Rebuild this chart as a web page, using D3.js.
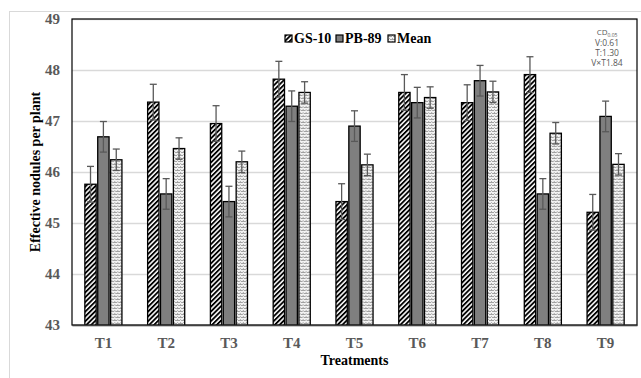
<!DOCTYPE html>
<html>
<head>
<meta charset="utf-8">
<script src="https://cdn.jsdelivr.net/npm/d3@7"></script>
<style>
  body { margin: 0; background: #fff; }
  svg text { font-family: "Liberation Serif", "Times New Roman", serif; }
</style>
</head>
<body>
<figure id="chart" style="margin:0"></figure>
<script>
// values
const treatments = ["T1", "T2", "T3", "T4", "T5", "T6", "T7", "T8", "T9"];
const gs10   = [45.76, 47.37, 46.95, 47.82, 45.42, 47.56, 47.36, 47.91, 45.21];
const pb89   = [46.69, 45.57, 45.42, 47.29, 46.90, 47.36, 47.79, 45.57, 47.09];
const meanV  = [46.24, 46.46, 46.20, 47.56, 46.14, 47.46, 47.57, 46.76, 46.15];
const gsErr   = [0.35, 0.35, 0.35, 0.35, 0.35, 0.35, 0.35, 0.35, 0.35];
const pbErr   = [0.30, 0.30, 0.30, 0.30, 0.30, 0.30, 0.30, 0.30, 0.30];
const meanErr = [0.21, 0.21, 0.21, 0.21, 0.21, 0.21, 0.21, 0.21, 0.21];
const seriesNames = ["GS-10", "PB-89", "Mean"];
const yTicks = [43, 44, 45, 46, 47, 48, 49];
const cdLines = ["V:0.61", "T:1.30", "V\u00d7T1.84"];

const WIDTH  = 641;
const HEIGHT = 378;
const MARGIN = { top: 19, right: 4, bottom: 53, left: 72 };
const INNER_WIDTH  = WIDTH - MARGIN.left - MARGIN.right;
const INNER_HEIGHT = HEIGHT - MARGIN.top - MARGIN.bottom;

const svg = d3.select("figure#chart")
  .append("svg")
  .attr("width", WIDTH)
  .attr("height", HEIGHT);

// patterns
const defs = svg.append("defs");
const hatch = defs.append("pattern")
  .attr("id", "hatch")
  .attr("patternUnits", "userSpaceOnUse")
  .attr("width", 3.4).attr("height", 3.4)
  .attr("patternTransform", "rotate(45)");
hatch.append("rect").attr("width", 3.4).attr("height", 3.4).attr("fill", "#fff");
hatch.append("line").attr("x1", 0.9).attr("y1", 0).attr("x2", 0.9).attr("y2", 3.4)
  .attr("stroke", "#000").attr("stroke-width", 1.9);

const zig = defs.append("pattern")
  .attr("id", "zig")
  .attr("patternUnits", "userSpaceOnUse")
  .attr("width", 6).attr("height", 6);
zig.append("rect").attr("width", 6).attr("height", 6).attr("fill", "#f2f2f2");
zig.append("path").attr("d", "M0,2 L1.5,0.5 L3,2 L4.5,0.5 L6,2 M0,5 L1.5,3.5 L3,5 L4.5,3.5 L6,5 M1.5,0.5 L1.5,2 M4.5,3.5 L4.5,5")
  .attr("fill", "none").attr("stroke", "#999").attr("stroke-width", 0.9);

const fills = ["url(#hatch)", "#7f7f7f", "url(#zig)"];

// outer chart frame
svg.append("rect")
  .attr("x", 9.5).attr("y", 11.5)
  .attr("width", 640).attr("height", 380)
  .attr("fill", "none")
  .attr("stroke", "#d9d9d9");

const g = svg.append("g")
  .attr("transform", "translate(" + MARGIN.left + "," + MARGIN.top + ")");

const x0 = d3.scaleBand()
  .domain(treatments)
  .range([0, INNER_WIDTH])
  .paddingInner(0.36)
  .paddingOuter(0.18);

const x1 = d3.scaleBand()
  .domain(seriesNames)
  .range([0, x0.bandwidth()])
  .padding(0.12);

const y = d3.scaleLinear()
  .domain([43, 49])
  .range([INNER_HEIGHT, 0]);

// grid
const yAxisGrid = d3.axisLeft(y)
  .tickValues(yTicks)
  .tickSize(-INNER_WIDTH)
  .tickPadding(12)
  .tickFormat(d3.format("d"));

const yg = g.append("g").call(yAxisGrid);
yg.select(".domain").remove();
yg.selectAll(".tick line").attr("stroke", "#d9d9d9").attr("stroke-width", 1.5);
yg.selectAll(".tick text")
  .attr("fill", "#595959")
  .style("font-size", "15px")
  .style("font-weight", "bold");

// plot area border
g.append("rect")
  .attr("width", INNER_WIDTH).attr("height", INNER_HEIGHT)
  .attr("fill", "none")
  .attr("stroke", "#000")
  .attr("stroke-width", 1.2);

const rows = treatments.map((t, i) => ({
  t: t,
  vals: [
    { s: "GS-10", v: gs10[i], e: gsErr[i], k: 0 },
    { s: "PB-89", v: pb89[i], e: pbErr[i], k: 1 },
    { s: "Mean", v: meanV[i], e: meanErr[i], k: 2 }
  ]
}));

const groups = g.selectAll(".grp")
  .data(rows)
  .enter()
  .append("g")
  .attr("transform", d => "translate(" + x0(d.t) + ",0)");

groups.selectAll("rect")
  .data(d => d.vals)
  .enter()
  .append("rect")
  .attr("x", d => x1(d.s))
  .attr("y", d => y(d.v))
  .attr("width", x1.bandwidth())
  .attr("height", d => y(43) - y(d.v))
  .attr("fill", d => fills[d.k])
  .attr("stroke", "#000")
  .attr("stroke-width", 1.3);

// error bars
const err = groups.selectAll(".err")
  .data(d => d.vals)
  .enter()
  .append("g")
  .attr("stroke", "#595959")
  .attr("stroke-width", 1.3);

err.append("line")
  .attr("x1", d => x1(d.s) + x1.bandwidth() / 2)
  .attr("x2", d => x1(d.s) + x1.bandwidth() / 2)
  .attr("y1", d => y(d.v - d.e))
  .attr("y2", d => y(d.v + d.e));
err.append("line")
  .attr("x1", d => x1(d.s) + x1.bandwidth() / 2 - 3.5)
  .attr("x2", d => x1(d.s) + x1.bandwidth() / 2 + 3.5)
  .attr("y1", d => y(d.v + d.e))
  .attr("y2", d => y(d.v + d.e));
err.append("line")
  .attr("x1", d => x1(d.s) + x1.bandwidth() / 2 - 3.5)
  .attr("x2", d => x1(d.s) + x1.bandwidth() / 2 + 3.5)
  .attr("y1", d => y(d.v - d.e))
  .attr("y2", d => y(d.v - d.e));

// x axis
const xAxis = d3.axisBottom(x0).tickSize(0).tickPadding(12);
const xg = g.append("g")
  .attr("transform", "translate(0," + INNER_HEIGHT + ")")
  .call(xAxis);
xg.select(".domain").attr("stroke", "#404040").attr("stroke-width", 1.5);
xg.selectAll(".tick text")
  .attr("fill", "#595959")
  .style("font-size", "15px")
  .style("font-weight", "bold");

// axis titles
svg.append("text")
  .attr("x", MARGIN.left + INNER_WIDTH / 2)
  .attr("y", 365)
  .style("text-anchor", "middle")
  .style("font-size", "14px")
  .style("font-weight", "bold")
  .text("Treatments");

svg.append("text")
  .attr("transform", "rotate(-90)")
  .attr("x", -(MARGIN.top + INNER_HEIGHT / 2))
  .attr("y", 40)
  .style("text-anchor", "middle")
  .style("font-size", "14px")
  .style("font-weight", "bold")
  .text("Effective nodules per plant");

// legend
const legX = [285, 336, 388];
const leg = svg.selectAll(".leg")
  .data(seriesNames)
  .enter()
  .append("g")
  .attr("transform", (d, i) => "translate(" + legX[i] + ",35)");
leg.append("rect")
  .attr("width", 7).attr("height", 7)
  .attr("fill", (d, i) => fills[i])
  .attr("stroke", "#000")
  .attr("stroke-width", 1.2);
leg.append("text")
  .attr("x", 9)
  .attr("y", 7.5)
  .style("font-size", "14px")
  .style("font-weight", "bold")
  .text(d => d);

// CD annotation
const cd = svg.append("text")
  .attr("x", 607)
  .attr("y", 35)
  .attr("fill", "#595959")
  .style("font-family", "'Open Sans', 'DejaVu Sans', sans-serif")
  .style("font-size", "8px")
  .style("text-anchor", "middle");
cd.append("tspan").text("CD");
cd.append("tspan").attr("dy", 2).style("font-size", "5px").text("0.05");
svg.selectAll(".cd")
  .data(cdLines)
  .enter()
  .append("text")
  .attr("x", 607)
  .attr("y", (d, i) => 46 + i * 10)
  .attr("fill", "#595959")
  .style("font-family", "'Open Sans', 'DejaVu Sans', sans-serif")
  .style("font-size", "8.5px")
  .style("text-anchor", "middle")
  .text(d => d);
</script>
</body>
</html>
